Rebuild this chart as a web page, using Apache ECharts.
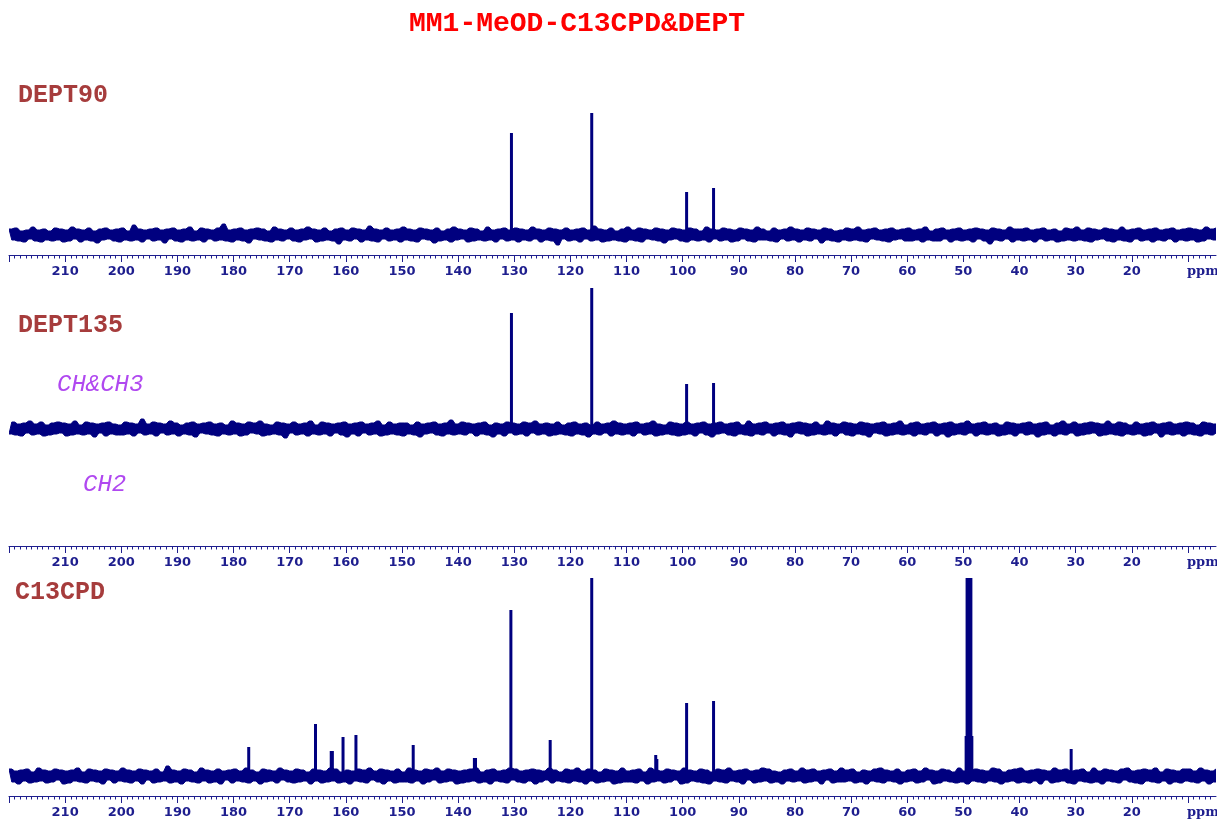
<!DOCTYPE html>
<html>
<head>
<meta charset="utf-8">
<title>MM1-MeOD-C13CPD&amp;DEPT</title>
<script src="https://cdn.jsdelivr.net/npm/echarts@6/dist/echarts.min.js"></script>
<style>
  html, body { margin: 0; padding: 0; background: #ffffff; }
  #chart { width: 1217px; height: 823px; }
</style>
</head>
<body>
<div id="chart"></div>
<script>
// Chemical-shift sampling of the baseline traces (ppm, descending)
const PPM_START = 220;
const PPM_STEP = 0.5;

// Baseline noise of each trace, one value per PPM_STEP
const NOISE_DEPT90 = [
  6,-5,7,-6,4,-7,5,-4,8,-6,5,-7,6,-5,4,-6,7,-5,6,-7,
  5,-6,8,-4,6,-7,5,-5,7,-6,4,-8,6,-5,7,-4,5,-6,6,-7,
  7,-5,4,-6,10,-5,6,-7,5,-4,6,-6,7,-5,5,-8,6,-4,7,-6,
  5,-7,6,-5,8,-6,4,-5,7,-7,6,-4,5,-6,7,-5,11,-6,5,-7,
  6,-5,7,-6,5,-8,6,-4,7,-5,6,-6,4,-7,8,-5,6,-6,5,-4,
  7,-6,5,-7,6,-5,8,-4,6,-7,5,-6,7,-5,4,-6,6,-9,7,-5,
  5,-6,7,-4,6,-7,5,-5,9,-6,6,-7,5,-4,7,-6,5,-5,6,-7,
  8,-5,6,-6,5,-7,7,-4,6,-5,5,-8,7,-6,4,-5,6,-7,8,-5,
  6,-4,5,-7,7,-6,6,-5,4,-6,8,-5,5,-7,6,-4,7,-6,5,-5,
  7,-7,6,-5,5,-6,8,-4,6,-7,5,-5,7,-6,6,-10,5,-4,7,-6,
  5,-5,6,-7,7,-4,5,-6,9,-5,6,-7,5,-6,7,-5,4,-6,6,-7,
  8,-5,5,-6,7,-7,6,-4,5,-5,7,-6,6,-8,5,-5,7,-4,6,-6,
  5,-7,7,-5,6,-6,4,-5,8,-7,6,-4,5,-6,7,-5,6,-7,5,-6,
  7,-4,6,-6,5,-7,8,-5,6,-5,4,-6,7,-7,5,-4,6,-6,8,-5,
  6,-7,5,-5,7,-6,6,-4,5,-8,7,-5,6,-6,4,-7,5,-5,7,-6,
  6,-5,8,-6,5,-7,6,-4,7,-5,5,-6,6,-7,7,-5,5,-4,6,-6,
  7,-6,5,-5,6,-7,8,-5,4,-6,6,-6,7,-4,5,-7,6,-5,7,-6,
  5,-5,6,-7,7,-4,6,-6,5,-9,7,-5,6,-6,5,-4,8,-7,6,-5,
  6,-6,7,-5,5,-7,6,-4,7,-6,5,-5,6,-7,4,-6,7,-5,6,-6,
  8,-5,5,-6,7,-7,6,-5,5,-4,7,-6,6,-7,5,-5,8,-6,5,-7,
  6,-4,7,-6,5,-5,6,-7,7,-5,5,-6,6,-4,7,-7,5,-5,6,-6,
  7,-5,6,-7,5,-6,8,-4,6,-5,7,-6,5,-7,6,-5,7,-6,5,-5
];
const NOISE_DEPT135 = [
  -5,7,-6,5,-7,6,-4,8,-6,5,-5,7,-7,4,-6,6,-5,7,-4,6,
  -7,5,-6,8,-5,4,-6,7,-5,6,-8,5,-4,6,-7,7,-5,5,-6,4,
  -6,7,-5,6,-7,5,-4,10,-6,5,-5,7,-7,6,-4,5,-6,8,-5,6,
  -7,4,-5,6,-6,7,-8,5,-4,6,-5,7,-6,5,-7,6,-5,4,-6,8,
  -5,6,-7,5,-6,7,-4,6,-5,8,-7,5,-6,4,-5,7,-6,6,-9,5,
  -4,7,-6,5,-5,6,-7,8,-5,4,-6,7,-5,6,-7,5,-4,6,-6,7,
  -8,5,-5,6,-7,7,-4,5,-6,6,-5,8,-7,4,-6,7,-5,5,-6,6,
  -7,6,-5,4,-6,7,-8,5,-5,6,-4,7,-6,5,-7,6,-5,9,-6,5,
  -5,7,-6,6,-4,5,-7,6,-5,7,-6,4,-8,6,-5,5,-7,7,-4,6,
  -6,5,-5,7,-7,6,-4,8,-6,5,-5,6,-7,5,-6,7,-5,4,-6,6,
  -7,7,-5,5,-6,6,-8,4,-5,7,-6,5,-4,6,-7,8,-5,6,-6,5,
  -5,6,-7,7,-4,5,-6,6,-5,8,-7,5,-6,4,-5,7,-6,6,-7,5,
  -6,7,-5,5,-7,6,-4,7,-6,5,-8,6,-5,7,-4,5,-6,6,-7,7,
  -5,4,-6,8,-7,5,-5,6,-6,7,-4,5,-7,6,-5,7,-6,5,-8,6,
  -4,7,-5,6,-7,5,-6,7,-5,4,-6,8,-5,6,-7,5,-4,7,-6,6,
  -7,5,-5,7,-6,6,-8,5,-4,6,-5,7,-7,5,-6,6,-5,8,-6,4,
  -5,6,-7,7,-5,5,-6,6,-4,7,-7,5,-5,6,-8,7,-6,5,-5,6,
  -6,8,-4,5,-7,6,-5,7,-6,5,-5,6,-7,4,-6,7,-5,6,-7,5,
  -4,6,-6,7,-5,5,-8,6,-6,7,-5,4,-7,6,-5,8,-6,5,-4,7,
  -7,5,-6,6,-5,7,-4,6,-7,5,-6,8,-5,5,-6,7,-7,6,-5,4,
  -6,7,-5,5,-7,6,-6,7,-4,5,-8,6,-5,7,-6,5,-5,6,-7,7,
  -5,6,-6,4,-7,7,-5,6,-6,5,-4,8,-7,5,-6,6,-5,7,-6,5
];
const NOISE_C13CPD = [
  7,-6,5,-8,6,-5,7,-7,4,-6,8,-5,6,-7,5,-6,7,-4,6,-8,
  5,-7,6,-5,8,-6,4,-7,7,-5,6,-6,5,-8,7,-4,6,-7,5,-5,
  8,-6,6,-7,5,-5,7,-8,6,-4,5,-7,7,-6,4,-5,10,-7,6,-6,
  5,-8,7,-5,6,-6,4,-7,8,-5,6,-7,5,-6,7,-8,5,-4,6,-7,
  7,-5,5,-6,8,-7,6,-5,4,-8,7,-6,6,-5,5,-7,8,-4,6,-6,
  5,-7,7,-6,6,-5,4,-8,7,-5,6,-7,5,-6,8,-5,7,-7,4,-6,
  6,-8,5,-5,7,-6,6,-7,8,-4,5,-6,7,-8,6,-5,5,-7,7,-6,
  4,-6,8,-7,6,-5,5,-8,7,-6,6,-4,8,-7,5,-6,7,-5,6,-8,
  5,-7,6,-6,7,-5,8,-7,4,-6,6,-8,7,-5,5,-6,6,-7,8,-4,
  7,-6,5,-7,6,-5,7,-8,6,-6,5,-4,8,-7,6,-5,4,-6,7,-7,
  6,-5,8,-6,5,-8,7,-5,6,-7,4,-6,7,-5,6,-8,5,-7,8,-6,
  5,-6,6,-7,7,-5,4,-8,8,-6,6,-5,5,-7,7,-6,6,-4,5,-8,
  8,-7,6,-5,5,-6,7,-7,6,-8,4,-5,7,-6,6,-7,8,-5,5,-6,
  6,-8,7,-4,5,-7,6,-6,8,-5,7,-7,5,-6,4,-8,6,-5,7,-6,
  5,-5,8,-7,6,-6,7,-5,5,-8,6,-4,7,-7,5,-6,8,-6,6,-5,
  7,-7,4,-6,6,-8,5,-5,7,-6,8,-7,6,-5,5,-6,7,-8,4,-6,
  6,-5,7,-7,5,-6,8,-4,6,-8,5,-7,7,-5,6,-6,4,-7,8,-6,
  5,-8,6,-5,7,-6,6,-7,5,-5,8,-6,7,-8,4,-6,6,-5,7,-7,
  8,-6,5,-7,6,-5,7,-8,6,-4,5,-7,8,-6,6,-5,7,-7,5,-8,
  6,-5,7,-6,4,-7,8,-6,5,-8,7,-5,6,-6,5,-7,7,-4,8,-6,
  5,-7,6,-8,7,-5,6,-6,8,-7,4,-5,7,-8,6,-6,5,-7,7,-5,
  7,-6,5,-7,8,-5,6,-8,5,-6,7,-7,6,-5,8,-6,4,-7,6,-8
];

// Resonances: position (ppm) and intensity of each line
const PEAKS_DEPT90_PPM = [130.5, 116.2, 99.3, 94.5];
const PEAKS_DEPT90_H   = [102, 122, 43, 47];

const PEAKS_DEPT135_PPM = [130.5, 116.2, 99.3, 94.5];
const PEAKS_DEPT135_H   = [116, 141, 45, 46];

const PEAKS_C13CPD_PPM = [177.3, 165.4, 162.6, 162.4, 160.5, 158.2, 148.0, 137.1, 136.9,
                          130.6, 123.6, 116.2, 104.8, 104.6, 99.3, 94.5,
                          49.51, 49.34, 49.17, 49.00, 48.83, 48.66, 48.49, 30.8];
const PEAKS_C13CPD_H   = [29, 52, 25, 25, 39, 41, 31, 18, 18,
                          166, 36, 230, 21, 17, 73, 75,
                          40, 400, 900, 1000, 900, 400, 40, 27];

// Axis ticks and labels (ppm)
const MAJOR_TICKS = [220, 210, 200, 190, 180, 170, 160, 150, 140, 130, 120, 110, 100,
                     90, 80, 70, 60, 50, 40, 30, 20, 10];
const TICK_LABELS = [210, 200, 190, 180, 170, 160, 150, 140, 130, 120, 110, 100,
                     90, 80, 70, 60, 50, 40, 30, 20];
const MINOR_TICKS = [];
for (let v = 219; v >= 6; v--) if (v % 10 !== 0) MINOR_TICKS.push(v);

const PPM_MIN = 5, PPM_MAX = 220;
const NAVY = '#00007f';
const AXIS_BLUE = '#1e1e8e';

// Panel geometry: grid box and vertical range (1 intensity unit = 1 px)
const PANELS = [
  { top: 100, height: 155, ymin: -20,  ymax: 135, noise: NOISE_DEPT90,  ppm: PEAKS_DEPT90_PPM,  h: PEAKS_DEPT90_H },
  { top: 280, height: 266, ymin: -117, ymax: 149, noise: NOISE_DEPT135, ppm: PEAKS_DEPT135_PPM, h: PEAKS_DEPT135_H },
  { top: 578, height: 218, ymin: -20,  ymax: 198, noise: NOISE_C13CPD,  ppm: PEAKS_C13CPD_PPM,  h: PEAKS_C13CPD_H }
];

// Upper / lower excursion of a noise trace between neighbouring samples
function envelope(noise) {
  const hi = [], lo = [];
  for (let k = 0; k < noise.length; k++) {
    const prev = noise[Math.max(0, k - 1)];
    hi.push([PPM_START - k * PPM_STEP, Math.max(prev, noise[k])]);
    lo.push([PPM_START - k * PPM_STEP, Math.min(prev, noise[k])]);
  }
  return { hi, lo };
}

const grid = [], xAxis = [], yAxis = [], series = [], graphic = [];

PANELS.forEach((p, i) => {
  grid.push({ left: 9, right: 1, top: p.top, height: p.height, containLabel: false });

  // main axis: line, long ticks every 10 ppm, labels
  xAxis.push({
    type: 'value', gridIndex: i, min: PPM_MIN, max: PPM_MAX, inverse: true, position: 'bottom',
    axisLine: { show: true, onZero: false, lineStyle: { color: AXIS_BLUE, width: 1 } },
    axisTick: { show: true, customValues: MAJOR_TICKS, length: 7, lineStyle: { color: AXIS_BLUE, width: 1 } },
    axisLabel: {
      show: true, customValues: TICK_LABELS, margin: 10, color: AXIS_BLUE,
      fontFamily: 'DejaVu Sans', fontWeight: 'bold', fontSize: 13
    },
    splitLine: { show: false }, minorTick: { show: false }
  });
  // short ticks every 1 ppm
  xAxis.push({
    type: 'value', gridIndex: i, min: PPM_MIN, max: PPM_MAX, inverse: true, position: 'bottom',
    axisLine: { show: false, onZero: false },
    axisTick: { show: true, customValues: MINOR_TICKS, length: 3.5, lineStyle: { color: AXIS_BLUE, width: 1 } },
    axisLabel: { show: false, customValues: MINOR_TICKS },
    splitLine: { show: false }, minorTick: { show: false }
  });
  yAxis.push({ type: 'value', gridIndex: i, min: p.ymin, max: p.ymax, show: false });

  // noise band drawn as a filled polygon between its upper and lower excursions
  const env = envelope(p.noise);
  series.push({
    type: 'custom', xAxisIndex: 2 * i, yAxisIndex: i,
    data: [[PPM_START, 0]], silent: true, animation: false, clip: true,
    renderItem: function (params, api) {
      const top = env.hi.map(d => api.coord(d));
      const bottom = env.lo.map(d => api.coord(d)).reverse();
      return {
        type: 'polygon',
        shape: { points: top.concat(bottom) },
        style: { fill: NAVY, stroke: NAVY, lineWidth: 1 }
      };
    }
  });
  // resonance lines
  series.push({
    type: 'bar', xAxisIndex: 2 * i, yAxisIndex: i,
    data: p.ppm.map((x, k) => [x, p.h[k]]),
    barWidth: 3, silent: true, animation: false, clip: true,
    itemStyle: { color: NAVY }
  });

  // "ppm" unit at the right end of each scale
  const axisY = p.top + p.height;
  graphic.push({
    type: 'text', x: 1187, y: axisY + 17,
    style: {
      text: 'ppm', fill: AXIS_BLUE, font: 'bold 13px "DejaVu Serif", serif',
      textAlign: 'left', textVerticalAlign: 'middle', align: 'left', verticalAlign: 'middle'
    }
  });
});

function label(text, x, y, font, fill, align) {
  return {
    type: 'text', x: x, y: y,
    style: {
      text: text, fill: fill, font: font,
      textAlign: align, textVerticalAlign: 'middle', align: align, verticalAlign: 'middle'
    }
  };
}

const MONO = '"Liberation Mono", "Courier New", monospace';
graphic.push(label('MM1-MeOD-C13CPD&DEPT', 577, 24, 'bold 28px ' + MONO, '#ff0000', 'center'));
graphic.push(label('DEPT90', 18, 96, 'bold 25px ' + MONO, '#a63c3c', 'left'));
graphic.push(label('DEPT135', 18, 326, 'bold 25px ' + MONO, '#a63c3c', 'left'));
graphic.push(label('CH&CH3', 57, 385, 'italic 24px ' + MONO, '#b048f0', 'left'));
graphic.push(label('CH2', 83, 485, 'italic 24px ' + MONO, '#b048f0', 'left'));
graphic.push(label('C13CPD', 15, 593, 'bold 25px ' + MONO, '#a63c3c', 'left'));

const chart = echarts.init(document.getElementById('chart'), null, { renderer: 'canvas' });
chart.setOption({
  backgroundColor: '#ffffff',
  animation: false,
  grid: grid,
  xAxis: xAxis,
  yAxis: yAxis,
  series: series,
  graphic: graphic
});
</script>
</body>
</html>
